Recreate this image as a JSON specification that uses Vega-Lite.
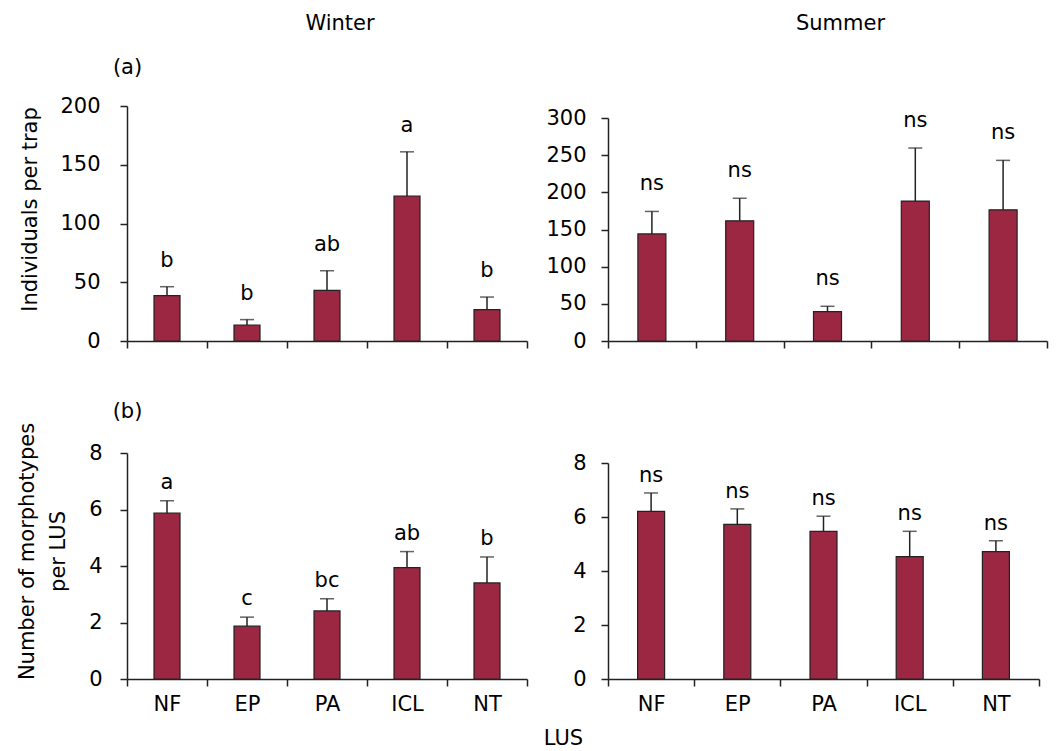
{
  "$schema": "https://vega.github.io/schema/vega-lite/v6.json",
  "padding": {"left": 16, "top": 13, "right": 5, "bottom": 5},
  "background": "white",
  "datasets": {
    "winterInd": [
      {"LUS": "NF", "mean": 38.6, "upper": 46.2, "sig": "b"},
      {"LUS": "EP", "mean": 13.6, "upper": 18.2, "sig": "b"},
      {"LUS": "PA", "mean": 43.1, "upper": 59.8, "sig": "ab"},
      {"LUS": "ICL", "mean": 123.4, "upper": 161, "sig": "a"},
      {"LUS": "NT", "mean": 26.7, "upper": 37.4, "sig": "b"}
    ],
    "summerInd": [
      {"LUS": "NF", "mean": 144, "upper": 174.3, "sig": "ns"},
      {"LUS": "EP", "mean": 161.7, "upper": 192, "sig": "ns"},
      {"LUS": "PA", "mean": 39.5, "upper": 46.7, "sig": "ns"},
      {"LUS": "ICL", "mean": 188.2, "upper": 259.6, "sig": "ns"},
      {"LUS": "NT", "mean": 176.5, "upper": 243, "sig": "ns"}
    ],
    "winterMorph": [
      {"LUS": "NF", "mean": 5.87, "upper": 6.31, "sig": "a"},
      {"LUS": "EP", "mean": 1.87, "upper": 2.19, "sig": "c"},
      {"LUS": "PA", "mean": 2.41, "upper": 2.84, "sig": "bc"},
      {"LUS": "ICL", "mean": 3.94, "upper": 4.51, "sig": "ab"},
      {"LUS": "NT", "mean": 3.40, "upper": 4.32, "sig": "b"}
    ],
    "summerMorph": [
      {"LUS": "NF", "mean": 6.21, "upper": 6.89, "sig": "ns"},
      {"LUS": "EP", "mean": 5.73, "upper": 6.30, "sig": "ns"},
      {"LUS": "PA", "mean": 5.47, "upper": 6.03, "sig": "ns"},
      {"LUS": "ICL", "mean": 4.53, "upper": 5.47, "sig": "ns"},
      {"LUS": "NT", "mean": 4.72, "upper": 5.12, "sig": "ns"}
    ]
  },
  "columns": 2,
  "align": "each",
  "bounds": "flush",
  "spacing": {"row": 112, "column": 81},
  "concat": [
    {
      "width": 400, "height": 235,
      "data": {"name": "winterInd"},
      "title": {"text": "Winter", "dx": 13, "offset": 22},
      "resolve": {"axis": {"x": "independent", "y": "independent"}},
      "layer": [
        {
          "mark": {"type": "bar", "width": 26, "color": "#9b2743", "stroke": "#222222", "strokeWidth": 1.2},
          "encoding": {
            "x": {"field": "LUS", "type": "nominal", "sort": ["NF", "EP", "PA", "ICL", "NT"], "scale": {"paddingInner": 0, "paddingOuter": 0},
                  "axis": {"orient": "bottom", "title": null, "labels": false, "tickBand": "extent", "tickSize": 7}},
            "y": {"field": "mean", "type": "quantitative", "scale": {"domain": [0, 200], "nice": false},
                  "axis": {"title": "Individuals per trap", "values": [0, 50, 100, 150, 200], "tickSize": 7, "labelPadding": 20, "titlePadding": 19, "titleY": 103}}
          }
        },
        {
          "mark": {"type": "rule", "color": "#222222", "strokeWidth": 1.5},
          "encoding": {
            "x": {"field": "LUS", "type": "nominal", "sort": ["NF", "EP", "PA", "ICL", "NT"], "axis": null},
            "y": {"field": "mean", "type": "quantitative", "axis": null},
            "y2": {"field": "upper"}
          }
        },
        {
          "mark": {"type": "tick", "orient": "horizontal", "size": 14, "thickness": 1.5, "color": "#222222"},
          "encoding": {
            "x": {"field": "LUS", "type": "nominal", "sort": ["NF", "EP", "PA", "ICL", "NT"], "axis": null},
            "y": {"field": "upper", "type": "quantitative", "axis": null}
          }
        },
        {
          "mark": {"type": "text", "dy": -20, "baseline": "alphabetic", "fontSize": 21, "font": "DejaVu Sans", "color": "#000000"},
          "encoding": {
            "x": {"field": "LUS", "type": "nominal", "sort": ["NF", "EP", "PA", "ICL", "NT"],
                  "axis": {"orient": "top", "title": "(a)", "labels": false, "ticks": false, "domain": false, "titleAnchor": "start", "titleAlign": "center", "titlePadding": 29}},
            "y": {"field": "upper", "type": "quantitative", "axis": null},
            "text": {"field": "sig"}
          }
        }
      ]
    },
    {
      "width": 439, "height": 235,
      "data": {"name": "summerInd"},
      "title": {"text": "Summer", "dx": 13, "offset": 72},
      "resolve": {"axis": {"x": "independent", "y": "independent"}},
      "layer": [
        {
          "mark": {"type": "bar", "width": 28, "color": "#9b2743", "stroke": "#222222", "strokeWidth": 1.2},
          "encoding": {
            "x": {"field": "LUS", "type": "nominal", "sort": ["NF", "EP", "PA", "ICL", "NT"], "scale": {"paddingInner": 0, "paddingOuter": 0},
                  "axis": {"orient": "bottom", "title": null, "labels": false, "tickBand": "extent", "tickSize": 7}},
            "y": {"field": "mean", "type": "quantitative", "scale": {"domain": [0, 300], "nice": false, "range": [235, 12]},
                  "axis": {"title": null, "values": [0, 50, 100, 150, 200, 250, 300], "tickSize": 7, "labelPadding": 15}}
          }
        },
        {
          "mark": {"type": "rule", "color": "#222222", "strokeWidth": 1.5},
          "encoding": {
            "x": {"field": "LUS", "type": "nominal", "sort": ["NF", "EP", "PA", "ICL", "NT"], "axis": null},
            "y": {"field": "mean", "type": "quantitative", "axis": null},
            "y2": {"field": "upper"}
          }
        },
        {
          "mark": {"type": "tick", "orient": "horizontal", "size": 14, "thickness": 1.5, "color": "#222222"},
          "encoding": {
            "x": {"field": "LUS", "type": "nominal", "sort": ["NF", "EP", "PA", "ICL", "NT"], "axis": null},
            "y": {"field": "upper", "type": "quantitative", "axis": null}
          }
        },
        {
          "mark": {"type": "text", "dy": -21, "baseline": "alphabetic", "fontSize": 21, "font": "DejaVu Sans", "color": "#000000"},
          "encoding": {
            "x": {"field": "LUS", "type": "nominal", "sort": ["NF", "EP", "PA", "ICL", "NT"], "axis": null},
            "y": {"field": "upper", "type": "quantitative", "axis": null},
            "text": {"field": "sig"}
          }
        }
      ]
    },
    {
      "width": 400, "height": 226,
      "data": {"name": "winterMorph"},
      "resolve": {"axis": {"x": "independent", "y": "independent"}},
      "layer": [
        {
          "mark": {"type": "bar", "width": 26, "color": "#9b2743", "stroke": "#222222", "strokeWidth": 1.2},
          "encoding": {
            "x": {"field": "LUS", "type": "nominal", "sort": ["NF", "EP", "PA", "ICL", "NT"], "scale": {"paddingInner": 0, "paddingOuter": 0},
                  "axis": {"orient": "bottom", "title": "LUS", "labelAngle": 0, "tickBand": "extent", "tickSize": 7, "labelPadding": 7, "titleX": 436, "titleY": 65, "titleBaseline": "alphabetic", "titleAlign": "center"}},
            "y": {"field": "mean", "type": "quantitative", "scale": {"domain": [0, 8], "nice": false},
                  "axis": {"title": ["Number of morphotypes", "per LUS"], "titleLineHeight": 31, "values": [0, 2, 4, 6, 8], "tickSize": 7, "labelPadding": 18, "titlePadding": 20, "titleY": 98}}
          }
        },
        {
          "mark": {"type": "rule", "color": "#222222", "strokeWidth": 1.5},
          "encoding": {
            "x": {"field": "LUS", "type": "nominal", "sort": ["NF", "EP", "PA", "ICL", "NT"], "axis": null},
            "y": {"field": "mean", "type": "quantitative", "axis": null},
            "y2": {"field": "upper"}
          }
        },
        {
          "mark": {"type": "tick", "orient": "horizontal", "size": 14, "thickness": 1.5, "color": "#222222"},
          "encoding": {
            "x": {"field": "LUS", "type": "nominal", "sort": ["NF", "EP", "PA", "ICL", "NT"], "axis": null},
            "y": {"field": "upper", "type": "quantitative", "axis": null}
          }
        },
        {
          "mark": {"type": "text", "dy": -12, "baseline": "alphabetic", "fontSize": 21, "font": "DejaVu Sans", "color": "#000000"},
          "encoding": {
            "x": {"field": "LUS", "type": "nominal", "sort": ["NF", "EP", "PA", "ICL", "NT"],
                  "axis": {"orient": "top", "title": "(b)", "labels": false, "ticks": false, "domain": false, "titleAnchor": "start", "titleAlign": "center", "titlePadding": 32}},
            "y": {"field": "upper", "type": "quantitative", "axis": null},
            "text": {"field": "sig"}
          }
        }
      ]
    },
    {
      "width": 431, "height": 226,
      "data": {"name": "summerMorph"},
      "resolve": {"axis": {"x": "independent", "y": "independent"}},
      "layer": [
        {
          "mark": {"type": "bar", "width": 27, "color": "#9b2743", "stroke": "#222222", "strokeWidth": 1.2},
          "encoding": {
            "x": {"field": "LUS", "type": "nominal", "sort": ["NF", "EP", "PA", "ICL", "NT"], "scale": {"paddingInner": 0, "paddingOuter": 0},
                  "axis": {"orient": "bottom", "title": null, "labelAngle": 0, "tickBand": "extent", "tickSize": 7, "labelPadding": 7}},
            "y": {"field": "mean", "type": "quantitative", "scale": {"domain": [0, 8], "nice": false, "range": [226, 10]},
                  "axis": {"title": null, "values": [0, 2, 4, 6, 8], "tickSize": 7, "labelPadding": 15}}
          }
        },
        {
          "mark": {"type": "rule", "color": "#222222", "strokeWidth": 1.5},
          "encoding": {
            "x": {"field": "LUS", "type": "nominal", "sort": ["NF", "EP", "PA", "ICL", "NT"], "axis": null},
            "y": {"field": "mean", "type": "quantitative", "axis": null},
            "y2": {"field": "upper"}
          }
        },
        {
          "mark": {"type": "tick", "orient": "horizontal", "size": 14, "thickness": 1.5, "color": "#222222"},
          "encoding": {
            "x": {"field": "LUS", "type": "nominal", "sort": ["NF", "EP", "PA", "ICL", "NT"], "axis": null},
            "y": {"field": "upper", "type": "quantitative", "axis": null}
          }
        },
        {
          "mark": {"type": "text", "dy": -11, "baseline": "alphabetic", "fontSize": 21, "font": "DejaVu Sans", "color": "#000000"},
          "encoding": {
            "x": {"field": "LUS", "type": "nominal", "sort": ["NF", "EP", "PA", "ICL", "NT"], "axis": null},
            "y": {"field": "upper", "type": "quantitative", "axis": null},
            "text": {"field": "sig"}
          }
        }
      ]
    }
  ],
  "config": {
    "view": {"stroke": null},
    "font": "DejaVu Sans",
    "title": {"fontSize": 21, "fontWeight": "normal", "color": "#000000", "anchor": "middle", "frame": "group"},
    "axis": {
      "labelFontSize": 21, "titleFontSize": 21, "titleFontWeight": "normal",
      "labelColor": "#000000", "titleColor": "#000000",
      "domainColor": "#222222", "domainWidth": 1.5, "tickColor": "#222222", "tickWidth": 1.5,
      "grid": false, "labelFont": "DejaVu Sans", "titleFont": "DejaVu Sans"
    }
  }
}
